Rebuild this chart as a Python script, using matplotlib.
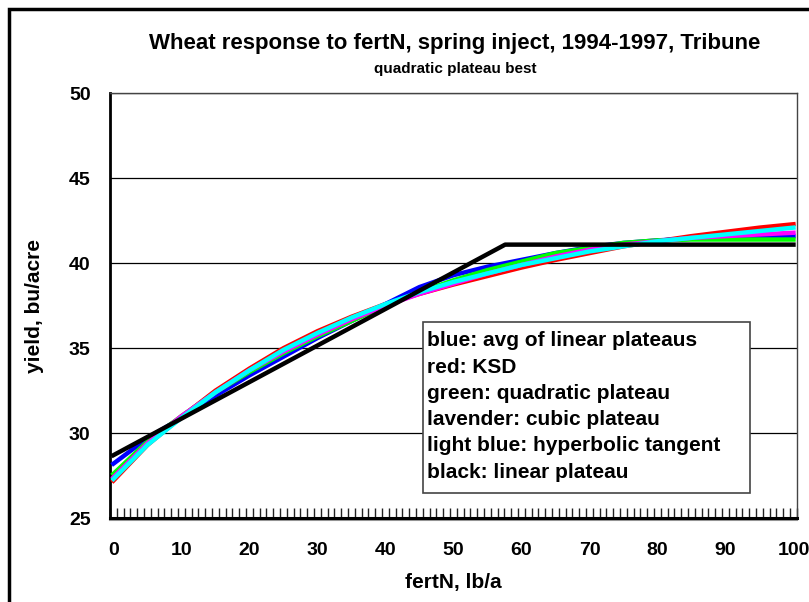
import matplotlib.pyplot as plt
import numpy as np
from matplotlib.patches import Rectangle

plt.rcParams['font.family'] = ['Liberation Sans', 'DejaVu Sans']
plt.rcParams['font.weight'] = 'bold'
plt.rcParams['axes.labelweight'] = 'bold'

fert_n = [0, 5, 10, 15, 20, 25, 30, 35, 40, 45, 50,
          55, 60, 65, 70, 75, 80, 85, 90, 95, 100]

ksd = [27.2, 29.3, 30.95, 32.5, 33.8, 35.0, 36.0, 36.85, 37.6, 38.2, 38.75,
       39.25, 39.75, 40.2, 40.6, 41.0, 41.3, 41.6, 41.85, 42.1, 42.3]
avg_lin_plat = [28.2, 29.7, 30.9, 32.2, 33.4, 34.5, 35.6, 36.6, 37.6, 38.6, 39.3,
                39.8, 40.2, 40.6, 40.95, 41.2, 41.35, 41.45, 41.5, 41.55, 41.6]
quad_plat = [27.6, 29.5, 31.0, 32.4, 33.6, 34.7, 35.7, 36.6, 37.5, 38.3, 39.0,
             39.6, 40.1, 40.6, 40.9, 41.2, 41.35, 41.4, 41.4, 41.4, 41.4]
cubic_plat = [27.4, 29.4, 31.0, 32.4, 33.7, 34.8, 35.8, 36.7, 37.5, 38.2, 38.8,
              39.4, 39.9, 40.4, 40.8, 41.1, 41.3, 41.5, 41.6, 41.7, 41.8]
hyp_tan = [27.3, 29.3, 30.9, 32.4, 33.7, 34.9, 35.9, 36.8, 37.6, 38.3, 38.9,
           39.4, 39.9, 40.3, 40.7, 41.0, 41.3, 41.5, 41.7, 41.9, 42.1]

# linear plateau: break points
lin_plat_x = [0, 57.6, 100]
lin_plat_y = [28.7, 41.1, 41.1]

x_ticks = list(range(0, 101, 10))
y_ticks = [25, 30, 35, 40, 45, 50]

legend_lines = ['blue: avg of linear plateaus',
                'red: KSD',
                'green: quadratic plateau',
                'lavender: cubic plateau',
                'light blue: hyperbolic tangent',
                'black: linear plateau']

fig = plt.figure(figsize=(8.09, 6.02), dpi=100)
ax = fig.add_axes([0.136, 0.1395, 0.849, 0.7052])

lw = 3.2
ax.plot(fert_n, ksd, color='#ff0000', lw=lw, zorder=3)
ax.plot(fert_n, avg_lin_plat, color='#0000ff', lw=lw, zorder=3)
ax.plot(fert_n, quad_plat, color='#00ff00', lw=lw, zorder=3)
ax.plot(fert_n, cubic_plat, color='#ff00ff', lw=lw, zorder=3)
ax.plot(fert_n, hyp_tan, color='#00ffff', lw=lw, zorder=3)
ax.plot(lin_plat_x, lin_plat_y, color='black', lw=lw, zorder=4)

ax.set_xlim(-0.5, 100.5)
ax.set_ylim(25, 50)
ax.set_yticks(y_ticks)
ax.set_xticks(x_ticks)
ax.set_xticks(np.arange(-0.5, 101, 1), minor=True)
ax.tick_params(axis='y', length=0, pad=14, labelsize=14)
ax.tick_params(axis='x', which='major', length=0, pad=17, labelsize=14)
ax.tick_params(axis='x', which='minor', direction='in', length=7, width=1, color='#222222')
ax.yaxis.grid(True, color='black', lw=0.9)
ax.set_axisbelow(True)

for s in ['top', 'right']:
    ax.spines[s].set_linewidth(1)
    ax.spines[s].set_color('#444444')
ax.spines['left'].set_linewidth(2)
ax.spines['bottom'].set_linewidth(2.2)
ax.plot([0, 1], [-0.004, -0.004], transform=ax.transAxes, color='#999999', lw=1.5,
        clip_on=False, zorder=1)

ax.set_xlabel('fertN, lb/a', fontsize=15, labelpad=10)
ax.set_ylabel('yield, bu/acre', fontsize=15, labelpad=18)

fig.text(0.5624, 0.928, 'Wheat response to fertN, spring inject, 1994-1997, Tribune',
         ha='center', va='center', fontsize=16)
fig.text(0.5624, 0.886, 'quadratic plateau best', ha='center', va='center', fontsize=11)

# legend box drawn as text inside a framed rectangle
fig.patches.append(Rectangle((0.5229, 0.181), 0.404, 0.284, transform=fig.transFigure,
                             facecolor='white', edgecolor='#444444', lw=1.2, zorder=5))
for i, line in enumerate(legend_lines):
    fig.text(0.528, 1 - (341 + 26.2 * i) / 602, line, ha='left', va='center',
             fontsize=15, zorder=6)

# outer chart frame, cut at right and bottom edges
fig.patches.append(Rectangle((0.0115, -0.2), 1.2, 1.185, transform=fig.transFigure,
                             facecolor='none', edgecolor='black', lw=2.5, zorder=0))

fig.savefig('out.png', dpi=100)
